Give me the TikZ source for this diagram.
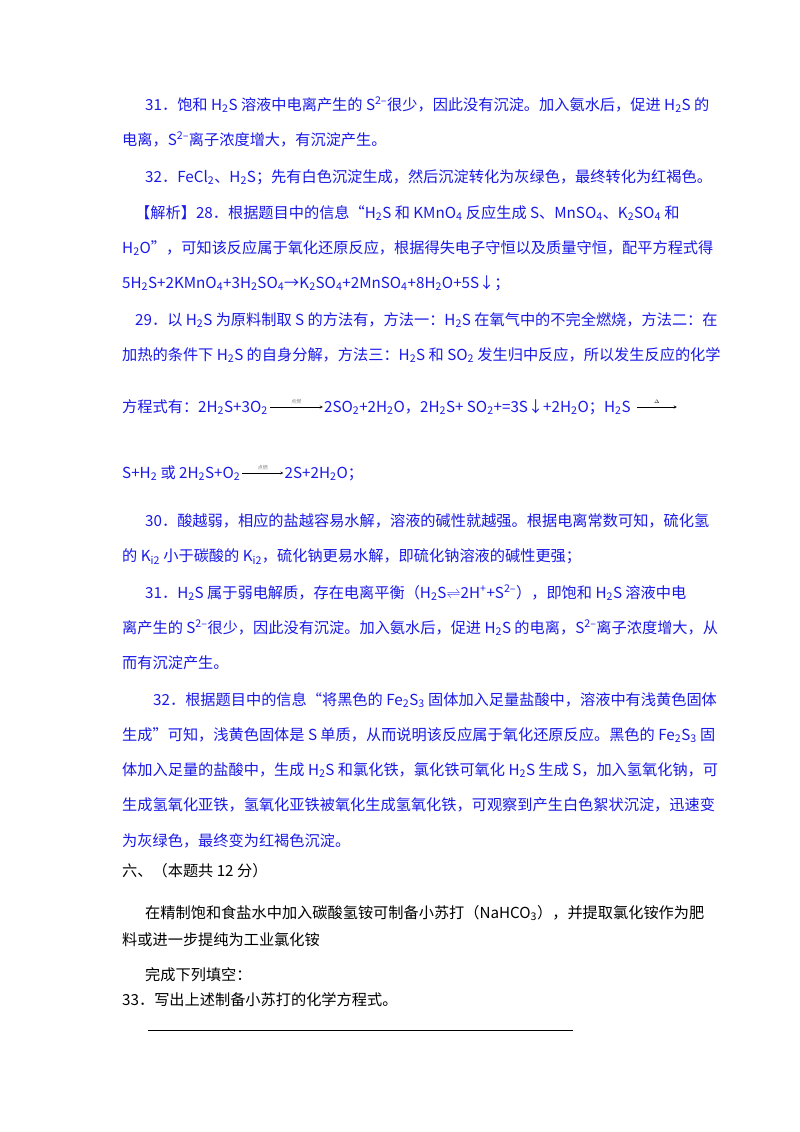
\documentclass[tikz,border=0pt]{standalone}
\usepackage{fontspec}
\setmainfont{Noto Sans CJK SC}
\usetikzlibrary{positioning}
\definecolor{jx-blau}{RGB}{25,25,230}
\newcommand{\dn}[1]{\textsubscript{#1}}
\newcommand{\up}[1]{\textsuperscript{#1}}
\tikzset{
  zeile/.style={anchor=base west, inner sep=0pt, font=\fontsize{15.2}{18}\selectfont},
  blau/.style={zeile, text=jx-blau},
  schwarz/.style={zeile, text=black},
  pfeil/.style={->, >=stealth, thin, black}
}
\begin{document}
\begin{tikzpicture}[x=1pt,y=-1pt]
\useasboundingbox (0,0) rectangle (800,1132);

% Loesungen 31, 32
\node[blau] (l1) at (145,110) {31．饱和 H\dn2S 溶液中电离产生的 S\up{2--}很少，因此没有沉淀。加入氨水后，促进 H\dn2S 的};
\node[blau] (l2) at (122,145) {电离，S\up{2--}离子浓度增大，有沉淀产生。};
\node[blau] (l3) at (145,182) {32．FeCl\dn2、H\dn2S；先有白色沉淀生成，然后沉淀转化为灰绿色，最终转化为红褐色。};

% Analyse 28
\node[blau] (l4) at (135,218) {【解析】28．根据题目中的信息“H\dn2S 和 KMnO\dn4 反应生成 S、MnSO\dn4、K\dn2SO\dn4 和};
\node[blau] (l5) at (122,253) {H\dn2O”，可知该反应属于氧化还原反应，根据得失电子守恒以及质量守恒，配平方程式得};
\node[blau] (l6) at (122,288) {5H\dn2S+2KMnO\dn4+3H\dn2SO\dn4→K\dn2SO\dn4+2MnSO\dn4+8H\dn2O+5S↓；};

% Analyse 29
\node[blau] (l7) at (135,325) {29．以 H\dn2S 为原料制取 S 的方法有，方法一：H\dn2S 在氧气中的不完全燃烧，方法二：在};
\node[blau] (l8) at (122,360) {加热的条件下 H\dn2S 的自身分解，方法三：H\dn2S 和 SO\dn2 发生归中反应，所以发生反应的化学};
\node[blau] (g1a) at (122,412) {方程式有：2H\dn2S+3O\dn2};
\node[blau] (g1b) at ([xshift=56pt]g1a.base east) {2SO\dn2+2H\dn2O，2H\dn2S+ SO\dn2+=3S↓+2H\dn2O；H\dn2S};
\coordinate (g1c) at ([xshift=46pt,yshift=5pt]g1b.base east);
\node[blau] (g2a) at (122,478) {S+H\dn2 或 2H\dn2S+O\dn2};
\node[blau] (g2b) at ([xshift=44pt]g2a.base east) {2S+2H\dn2O；};
\draw[pfeil] ([xshift=2pt,yshift=5pt]g1a.base east) -- node[above=0pt, font=\tiny, text=gray] {点燃} ([xshift=-1pt,yshift=5pt]g1b.base west);
\draw[pfeil] ([xshift=6pt,yshift=5pt]g1b.base east) -- node[above=0pt, font=\tiny] {$\Delta$} (g1c);
\draw[pfeil] ([xshift=2pt,yshift=5pt]g2a.base east) -- node[above=0pt, font=\tiny, text=gray] {点燃} ([xshift=-1pt,yshift=5pt]g2b.base west);

% Analyse 30 - 32
\node[blau] (l11) at (145,526) {30．酸越弱，相应的盐越容易水解，溶液的碱性就越强。根据电离常数可知，硫化氢};
\node[blau] (l12) at (122,561) {的 K\dn{i2} 小于碳酸的 K\dn{i2}，硫化钠更易水解，即硫化钠溶液的碱性更强；};
\node[blau] (l13) at (145,598) {31．H\dn2S 属于弱电解质，存在电离平衡（H\dn2S$\rightleftharpoons$2H\up++S\up{2--}），即饱和 H\dn2S 溶液中电};
\node[blau] (l14) at (122,633) {离产生的 S\up{2--}很少，因此没有沉淀。加入氨水后，促进 H\dn2S 的电离，S\up{2--}离子浓度增大，从};
\node[blau] (l15) at (122,668) {而有沉淀产生。};
\node[blau] (l16) at (153,705) {32．根据题目中的信息“将黑色的 Fe\dn2S\dn3 固体加入足量盐酸中，溶液中有浅黄色固体};
\node[blau] (l17) at (122,740) {生成”可知，浅黄色固体是 S 单质，从而说明该反应属于氧化还原反应。黑色的 Fe\dn2S\dn3 固};
\node[blau] (l18) at (122,775) {体加入足量的盐酸中，生成 H\dn2S 和氯化铁，氯化铁可氧化 H\dn2S 生成 S，加入氢氧化钠，可};
\node[blau] (l19) at (122,810) {生成氢氧化亚铁，氢氧化亚铁被氧化生成氢氧化铁，可观察到产生白色絮状沉淀，迅速变};
\node[blau] (l20) at (122,846) {为灰绿色，最终变为红褐色沉淀。};

% Aufgabe sechs
\node[schwarz] (l21) at (122,876) {六、（本题共 12 分）};
\node[schwarz] (l22) at (145,918) {在精制饱和食盐水中加入碳酸氢铵可制备小苏打（NaHCO\dn3），并提取氯化铵作为肥};
\node[schwarz] (l23) at (122,945) {料或进一步提纯为工业氯化铵};
\node[schwarz] (l24) at (145,980) {完成下列填空：};
\node[schwarz] (l25) at (122,1005) {33．写出上述制备小苏打的化学方程式。};
\draw[black, thin] (148,1030) -- (573,1030);
\end{tikzpicture}
\end{document}
